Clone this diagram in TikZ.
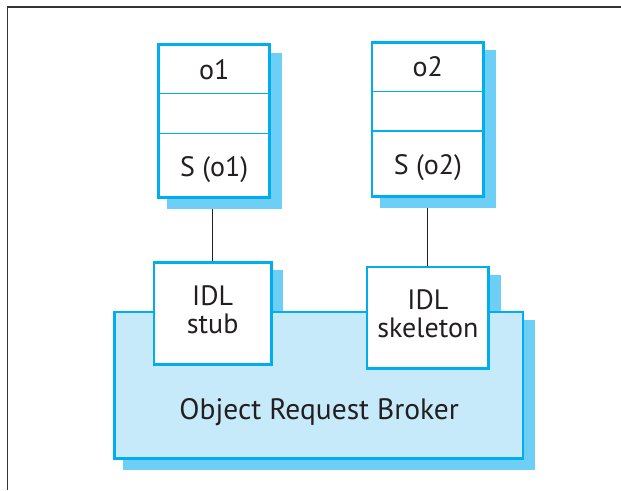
\documentclass[tikz,border=0pt]{standalone}
\usepackage{fontspec}
\setmainfont{PT Sans}
\usetikzlibrary{backgrounds,calc}
\definecolor{bord}{HTML}{00AEEF}
\definecolor{shade}{HTML}{6DCFF6}
\definecolor{orbfill}{HTML}{C7EAFB}
\definecolor{ink}{HTML}{231F20}
\definecolor{framec}{HTML}{333333}
\begin{document}
\begin{tikzpicture}[x=1pt,y=-1pt,
  box/.style={draw=bord, line width=2.7pt, fill=white, outer sep=0pt, inner sep=0pt},
  orbbox/.style={box, fill=orbfill},
  lbl/.style={text=ink, font=\fontsize{28}{31}\selectfont, anchor=base, inner sep=0pt},
  biglbl/.style={lbl, font=\fontsize{29.5}{32}\selectfont},
  divider/.style={draw=bord, line width=1.3pt},
  conn/.style={draw=ink, line width=1pt},
  frameline/.style={draw=framec, line width=1.5pt},
  shadowfill/.style={fill=shade}]
\useasboundingbox (0,0) rectangle (621,490);
\draw[frameline] (621,7) -- (7.5,7) -- (7.5,490);

% Object Request Broker
\node[orbbox, minimum width=408.3pt, minimum height=146.6pt] (orb) at (318.8,385.35) {};
\node[biglbl] (orbtxt) at (319.2,419.3) {Object Request Broker};

% object boxes
\node[box, minimum width=111pt, minimum height=153pt] (o1) at (214.15,121.15) {};
\node[box, minimum width=111.6pt, minimum height=154pt] (o2) at (427.85,119.35) {};

% IDL boxes
\node[box, minimum width=117.3pt, minimum height=102pt] (stub) at (212.7,313.35) {};
\node[box, minimum width=121.6pt, minimum height=101.6pt] (skel) at (427.85,317.85) {};

% dividers
\draw[divider] ($(o1.north west)+(0,48.65)$) -- ($(o1.north east)+(0,48.65)$);
\draw[divider] ($(o1.north west)+(0,88.65)$) -- ($(o1.north east)+(0,88.65)$);
\draw[divider] ($(o2.north west)+(0,49.35)$) -- ($(o2.north east)+(0,49.35)$);
\draw[divider] ($(o2.north west)+(0,88.65)$) -- ($(o2.north east)+(0,88.65)$);

% labels
\node[lbl] (o1name) at (214.15,79.3) {o1};
\node[lbl] (o1s) at (214.15,176.7) {S (o1)};
\node[lbl] (o2name) at (427.85,76.7) {o2};
\node[lbl] (o2s) at (427.85,174.3) {S (o2)};
\node[lbl] (stubA) at (212.7,305.7) {IDL};
\node[lbl] (stubB) at (212.7,333.3) {stub};
\node[lbl] (skelA) at (427.85,309) {IDL};
\node[lbl] (skelB) at (427.85,337) {skeleton};

% connectors and shadows
\begin{pgfonlayer}{background}
\draw[conn] (o1.south -| stub.north) -- (stub.north);
\draw[conn] (o2.south) -- (skel.north);
\fill[shadowfill] ($(orb.north west)+(8,8)$) rectangle ($(orb.south east)+(12,11.5)$);
\fill[shadowfill] ($(o1.north west)+(8,8)$) rectangle ($(o1.south east)+(12,11.5)$);
\fill[shadowfill] ($(o2.north west)+(8,8)$) rectangle ($(o2.south east)+(12,11.5)$);
\fill[shadowfill] ($(stub.north west)+(8,8)$) rectangle ($(stub.south east)+(12,11.5)$);
\fill[shadowfill] ($(skel.north west)+(8,8)$) rectangle ($(skel.south east)+(12,11.5)$);
\end{pgfonlayer}
\end{tikzpicture}
\end{document}
